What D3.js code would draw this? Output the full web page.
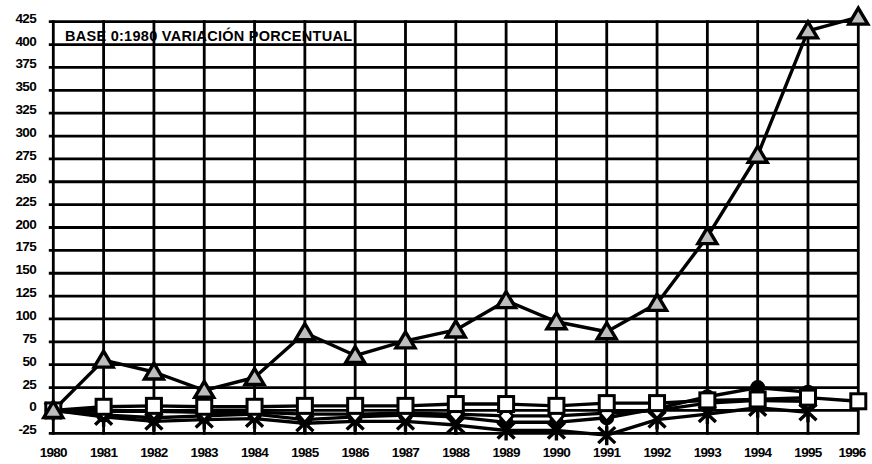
<!DOCTYPE html>
<html><head><meta charset="utf-8">
<script src="https://cdn.jsdelivr.net/npm/d3@7"></script>
<style>
html,body{margin:0;padding:0;background:#fff;}
svg{display:block;}
text{font-family:"Liberation Sans",Arial,sans-serif;font-weight:bold;fill:#000;}
</style></head>
<body>
<svg id="c" width="872" height="464"></svg>
<script>
const years = [1980,1981,1982,1983,1984,1985,1986,1987,1988,1989,1990,1991,1992,1993,1994,1995,1996];
const yTicks = [-25,0,25,50,75,100,125,150,175,200,225,250,275,300,325,350,375,400,425];
const titleText = "BASE 0:1980 VARIACIÓN PORCENTUAL";
const triangleSeries = [0,55,42,22,36,85,60,76,88,120,97,86,117,190,279,415,430];
const squareSeries   = [0,4,5,4,4,5,5,5,7,7,5,8,8,11,12,14,10];
const diamondSeries  = [0,-1,-1,-2,-2,-4,-4,-3,-4,-6,-6,-3,0,8,11,10,null];
const circleSeries   = [0,-5,-8,-6,-4,-10,-7,-5,-7,-13,-13,-8,2,15,25,20,null];
const starSeries     = [0,-7,-12,-10,-9,-14,-12,-12,-16,-22,-22,-27,-10,-4,3,-2,null];

const svg = d3.select("#c");
const pL = 53.3, pR = 858.3, pT = 21.7, pB = 433.3;
const x = d3.scalePoint().domain(years).range([pL, pR]);
const y = d3.scaleLinear().domain([-25, 425]).range([pB, pT]);

// title text (under grid)
svg.append("text").attr("x", 65).attr("y", 40.5).attr("font-size", 14.5)
  .attr("textLength", 287).attr("lengthAdjust", "spacing").text(titleText);

// grid
const g = svg.append("g");
g.selectAll("line.h").data(yTicks).join("line")
  .attr("x1", pL - 4.5).attr("x2", pR)
  .attr("y1", d => y(d)).attr("y2", d => y(d))
  .attr("stroke", "#000").attr("stroke-width", 2.8);
g.selectAll("line.v").data(years).join("line")
  .attr("x1", d => x(d)).attr("x2", d => x(d))
  .attr("y1", pT - 1.4).attr("y2", pB + 1.4)
  .attr("stroke", "#000").attr("stroke-width", 2.8);

// y labels
svg.selectAll("text.yl").data(yTicks).join("text")
  .attr("class", "yl")
  .attr("x", 36).attr("y", d => y(d) + 1)
  .attr("text-anchor", "end").attr("font-size", 13.5)
  .attr("letter-spacing", -0.7).text(d => d);

// x labels
svg.selectAll("text.xl").data(years).join("text")
  .attr("class", "xl")
  .attr("x", d => Math.min(x(d), 852)).attr("y", 457)
  .attr("text-anchor", "middle").attr("font-size", 13.5)
  .attr("letter-spacing", -0.7).text(d => d);

function pts(vals){ return years.map((yr,i)=>({yr, v: vals[i]})).filter(d => d.v !== null); }
const line = d3.line().x(d => x(d.yr)).y(d => y(d.v));

function drawLine(vals){
  svg.append("path").datum(pts(vals)).attr("d", line)
    .attr("fill", "none").attr("stroke", "#000").attr("stroke-width", 3.4).attr("stroke-linejoin","round");
}

// lines
drawLine(starSeries);
drawLine(circleSeries);
drawLine(diamondSeries);
drawLine(squareSeries);
drawLine(triangleSeries);

// markers
svg.selectAll("path.st").data(pts(starSeries)).join("path")
  .attr("transform", d => `translate(${x(d.yr)},${y(d.v)})`)
  .attr("d", "M-8.5,-8L8.5,8M8.5,-8L-8.5,8M0,-9L0,10")
  .attr("stroke", "#000").attr("stroke-width", 3.4).attr("fill", "none");
svg.selectAll("circle.ci").data(pts(circleSeries)).join("circle")
  .attr("cx", d => x(d.yr)).attr("cy", d => y(d.v)).attr("r", 7.5)
  .attr("fill", "#000");
svg.selectAll("path.di").data(pts(diamondSeries)).join("path")
  .attr("transform", d => `translate(${x(d.yr)},${y(d.v)})`)
  .attr("d", "M0,-8L7,0L0,8L-7,0Z")
  .attr("fill", "#fff").attr("stroke", "#000").attr("stroke-width", 2.8);
svg.selectAll("rect.sq").data(pts(squareSeries)).join("rect")
  .attr("x", d => x(d.yr) - 7.5).attr("y", d => y(d.v) - 7.5)
  .attr("width", 15).attr("height", 15)
  .attr("fill", "#fff").attr("stroke", "#000").attr("stroke-width", 3);
svg.selectAll("path.tr").data(pts(triangleSeries)).join("path")
  .attr("transform", d => `translate(${x(d.yr)},${y(d.v)})`)
  .attr("d", "M0,-9L9.5,7L-9.5,7Z")
  .attr("fill", "#bdbdbd").attr("stroke", "#000").attr("stroke-width", 3.4).attr("stroke-linejoin","miter");
</script>
</body></html>
